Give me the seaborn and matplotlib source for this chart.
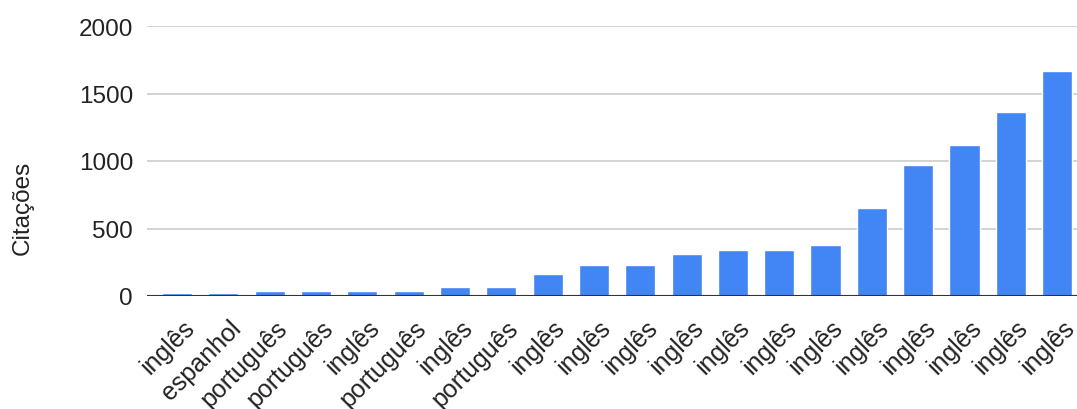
import matplotlib
matplotlib.use("Agg")
import matplotlib.pyplot as plt
import matplotlib.transforms as mtransforms
import seaborn as sns
import pandas as pd

# values
idiomas = ["inglês", "espanhol", "português", "português", "inglês", "português",
           "inglês", "português", "inglês", "inglês", "inglês", "inglês", "inglês",
           "inglês", "inglês", "inglês", "inglês", "inglês", "inglês", "inglês"]
citacoes = [25, 22, 40, 40, 40, 40, 70, 70, 160, 230, 230, 310, 340, 340,
            375, 650, 970, 1115, 1360, 1665]

df = pd.DataFrame({"pos": range(len(citacoes)), "Citações": citacoes})

sns.set_style("white")
plt.rcParams["font.family"] = ["Liberation Sans", "DejaVu Sans"]

fig = plt.figure(figsize=(10.77, 4.10), dpi=100)
ax = fig.add_axes([147 / 1077, 1 - 297 / 410, (1077 - 147) / 1077, (297 - 27) / 410])

sns.barplot(data=df, x="pos", y="Citações", color="#4285F4", saturation=1,
            width=0.65, ax=ax, native_scale=True, zorder=3)

ax.set_xlim(-0.65, 19.43)
ax.set_ylim(0, 2000)
ax.set_yticks([0, 500, 1000, 1500, 2000])
ax.yaxis.grid(True, color="#cccccc", linewidth=1.2, zorder=0)
ax.axhline(0, color="#333333", linewidth=1.5, zorder=4)
for s in ax.spines.values():
    s.set_visible(False)

fs = 17.5
ax.set_xticks(range(len(idiomas)))
ax.set_xticklabels(idiomas, rotation=45, ha="right", va="top",
                   rotation_mode="anchor", fontsize=18, color="#222222")
ax.tick_params(axis="x", length=0, pad=0)
ax.tick_params(axis="y", length=0, pad=10, labelsize=fs, labelcolor="#222222")

# shift the slanted labels a bit right and down
off = mtransforms.ScaledTranslation(5 / 100, -19 / 100, fig.dpi_scale_trans)
for lab in ax.get_xticklabels():
    lab.set_transform(lab.get_transform() + off)

ax.set_xlabel("")
ax.set_ylabel("Citações", fontsize=fs, color="#222222")
ax.yaxis.set_label_coords(-0.122, 0.33)

fig.savefig("out.png", dpi=100)
